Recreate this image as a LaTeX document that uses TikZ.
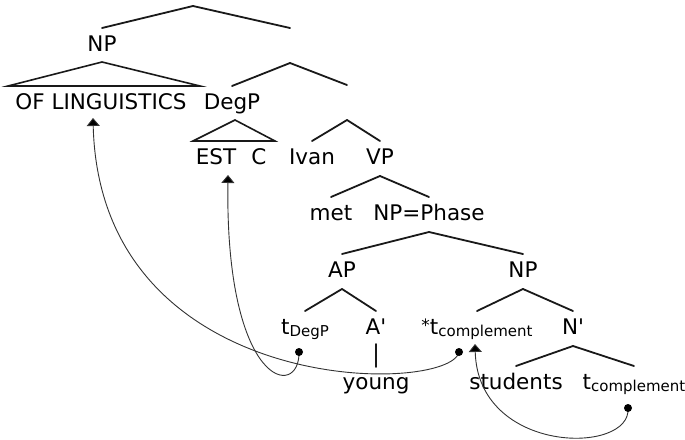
\documentclass[tikz,border=0pt]{standalone}
\usepackage{fontspec}
\setmainfont{DejaVu Sans}
\usetikzlibrary{calc,arrows.meta}
\newcommand\subtxt[1]{\raisebox{-2.5pt}{\fontsize{15}{15}\selectfont #1}}
\newcommand\branchto[2]{\draw[branch] ($(#1.base)+(0,12)$) -- ($(#2.base)+(0,-23)$);}
\begin{document}
\begin{tikzpicture}[x=1pt,y=-1pt,
  lab/.style={inner sep=0pt,anchor=base,font=\fontsize{21.5}{21.5}\selectfont,text=black},
  branch/.style={line width=1.8pt,draw=black!90,line cap=round},
  tri/.style={line width=1.6pt,draw=black!90,line join=miter},
  move/.style={line width=0.9pt,draw=black!80,-{Triangle[width=13pt,length=8pt,fill=black]}}
]
\useasboundingbox (0,0) rectangle (685,439);
% labels
\node[lab] (root) at (193,-6) {};
\node[lab] (np1) at (102,51) {NP};
\node[lab] (u1) at (290,51) {};
\node[lab] (ofl) at (101,109) {OF LINGUISTICS};
\node[lab] (degp) at (232,109) {DegP};
\node[lab] (u2) at (347,108) {};
\node[lab] (est) at (216,164) {EST};
\node[lab] (c) at (259,164) {C};
\node[lab] (ivan) at (312,164) {Ivan};
\node[lab] (vp) at (380,164) {VP};
\node[lab] (met) at (331,220) {met};
\node[lab] (phase) at (429,220) {NP=Phase};
\node[lab] (ap) at (342,277) {AP};
\node[lab] (np2) at (523,277) {NP};
\node[lab] (tdeg) at (305,334) {t\subtxt{DegP}};
\node[lab] (abar) at (376,334) {A\textquotesingle};
\node[lab] (tc1) at (477,334) {\raisebox{3pt}{\fontsize{17}{17}\selectfont *}t\subtxt{complement}};
\node[lab] (nbar) at (573,334) {N\textquotesingle};
\node[lab] (young) at (376,389) {young};
\node[lab] (stud) at (516,389) {students};
\node[lab] (tc2) at (634,389) {t\subtxt{complement}};
% branches
\branchto{root}{np1}
\branchto{root}{u1}
\branchto{u1}{degp}
\branchto{u1}{u2}
\branchto{u2}{ivan}
\branchto{u2}{vp}
\branchto{vp}{met}
\branchto{vp}{phase}
\branchto{phase}{ap}
\branchto{phase}{np2}
\branchto{ap}{tdeg}
\branchto{ap}{abar}
\branchto{np2}{tc1}
\branchto{np2}{nbar}
\branchto{nbar}{stud}
\branchto{nbar}{tc2}
\draw[branch] ($(abar.base)+(0,10)$) -- ($(young.base)+(0,-22)$);
% triangles
\draw[tri] ($(np1.base)+(0,11)$) -- ($(ofl.base)+(-93,-23)$) -- ($(ofl.base)+(99,-23)$) -- cycle;
\draw[tri] ($(degp.base)+(3,11)$) -- ($(est.base)+(-23,-23)$) -- ($(c.base)+(16,-23)$) -- cycle;
% movement
\coordinate (d1) at ($(tdeg.base)+(-6,18)$);
\coordinate (d2) at ($(tc1.base)+(-18,18)$);
\coordinate (d3) at ($(tc2.base)+(-6,19)$);
\coordinate (a1) at ($(ofl.base)+(-8,9)$);
\coordinate (a2) at ($(est.base)+(12,11)$);
\coordinate (a3) at ($(tc1.base)+(-2,10)$);
\draw[move] (d2) .. controls (450,395) and (100,400) .. (a1);
\draw[move] (d1) .. controls (300,400) and (225,388) .. (a2);
\draw[move] (d3) .. controls (632,455) and (478,455) .. (a3);
\fill[black] (d1) circle (4pt);
\fill[black] (d2) circle (4pt);
\fill[black] (d3) circle (4pt);
\end{tikzpicture}
\end{document}
